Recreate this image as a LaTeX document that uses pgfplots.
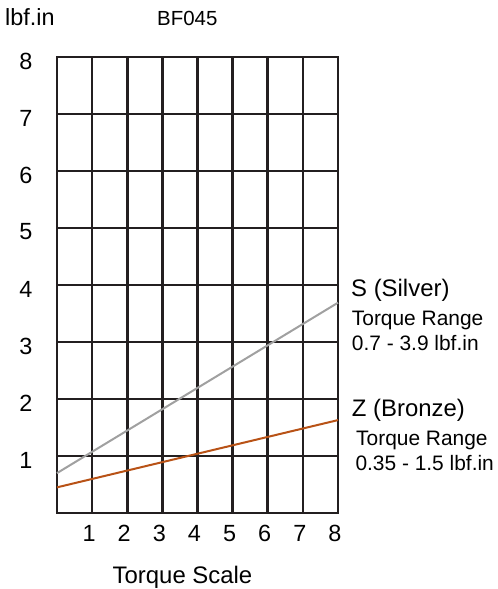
\documentclass[border=0pt]{standalone}
\usepackage{fontspec}
\setmainfont{Liberation Sans}
\usepackage{pgfplots}
\pgfplotsset{compat=1.18}
\definecolor{gridc}{RGB}{35,31,32}
\definecolor{silverc}{RGB}{160,160,160}
\definecolor{bronzec}{RGB}{184,82,22}
\begin{document}
\begin{tikzpicture}
\useasboundingbox (0,0) rectangle (498bp,-589bp);
\begin{axis}[
    at={(57bp,-513bp)}, anchor=south west,
    scale only axis, width=281bp, height=456bp,
    xmin=0, xmax=8, ymin=0, ymax=8,
    xtick={1,...,8}, ytick={1,...,8},
    grid=major,
    major grid style={gridc, line width=2.6bp},
    axis line style={gridc, line width=2.6bp},
    major tick length=0pt,
    /pgf/number format/assume math mode=true,
    ticklabel style={font=\fontsize{23.5}{26}\selectfont, text=black},
    xticklabel style={yshift=-9bp, xshift=-3bp},
    yticklabel style={xshift=-21bp, yshift=-4bp},
    clip=false,
]
\addplot[silverc, line width=2bp] coordinates {(0,0.70) (8,3.69)};
\addplot[bronzec, line width=2bp] coordinates {(0,0.45) (8,1.63)};
\end{axis}
\tikzset{lbl/.style={anchor=base west, inner sep=0pt, text=black}}
\node[lbl, font=\fontsize{23.5}{26}\selectfont] at (5bp,-25bp) {lbf.in};
\node[lbl, font=\fontsize{20.5}{24}\selectfont] at (157bp,-25bp) {BF045};
\node[anchor=base, inner sep=0pt, font=\fontsize{24}{28}\selectfont] at (182.5bp,-583bp) {Torque Scale};
\node[lbl, font=\fontsize{24}{28}\selectfont] at (351bp,-296.7bp) {S (Silver)};
\node[lbl, font=\fontsize{21}{25}\selectfont] at (351.7bp,-325.7bp) {Torque Range};
\node[lbl, font=\fontsize{21}{25}\selectfont] at (351.7bp,-350.7bp) {0.7 - 3.9 lbf.in};
\node[lbl, font=\fontsize{24}{28}\selectfont] at (351.7bp,-416bp) {Z (Bronze)};
\node[lbl, font=\fontsize{21}{25}\selectfont] at (356bp,-445bp) {Torque Range};
\node[lbl, font=\fontsize{21}{25}\selectfont] at (355.3bp,-470.7bp) {0.35 - 1.5 lbf.in};
\end{tikzpicture}
\end{document}
